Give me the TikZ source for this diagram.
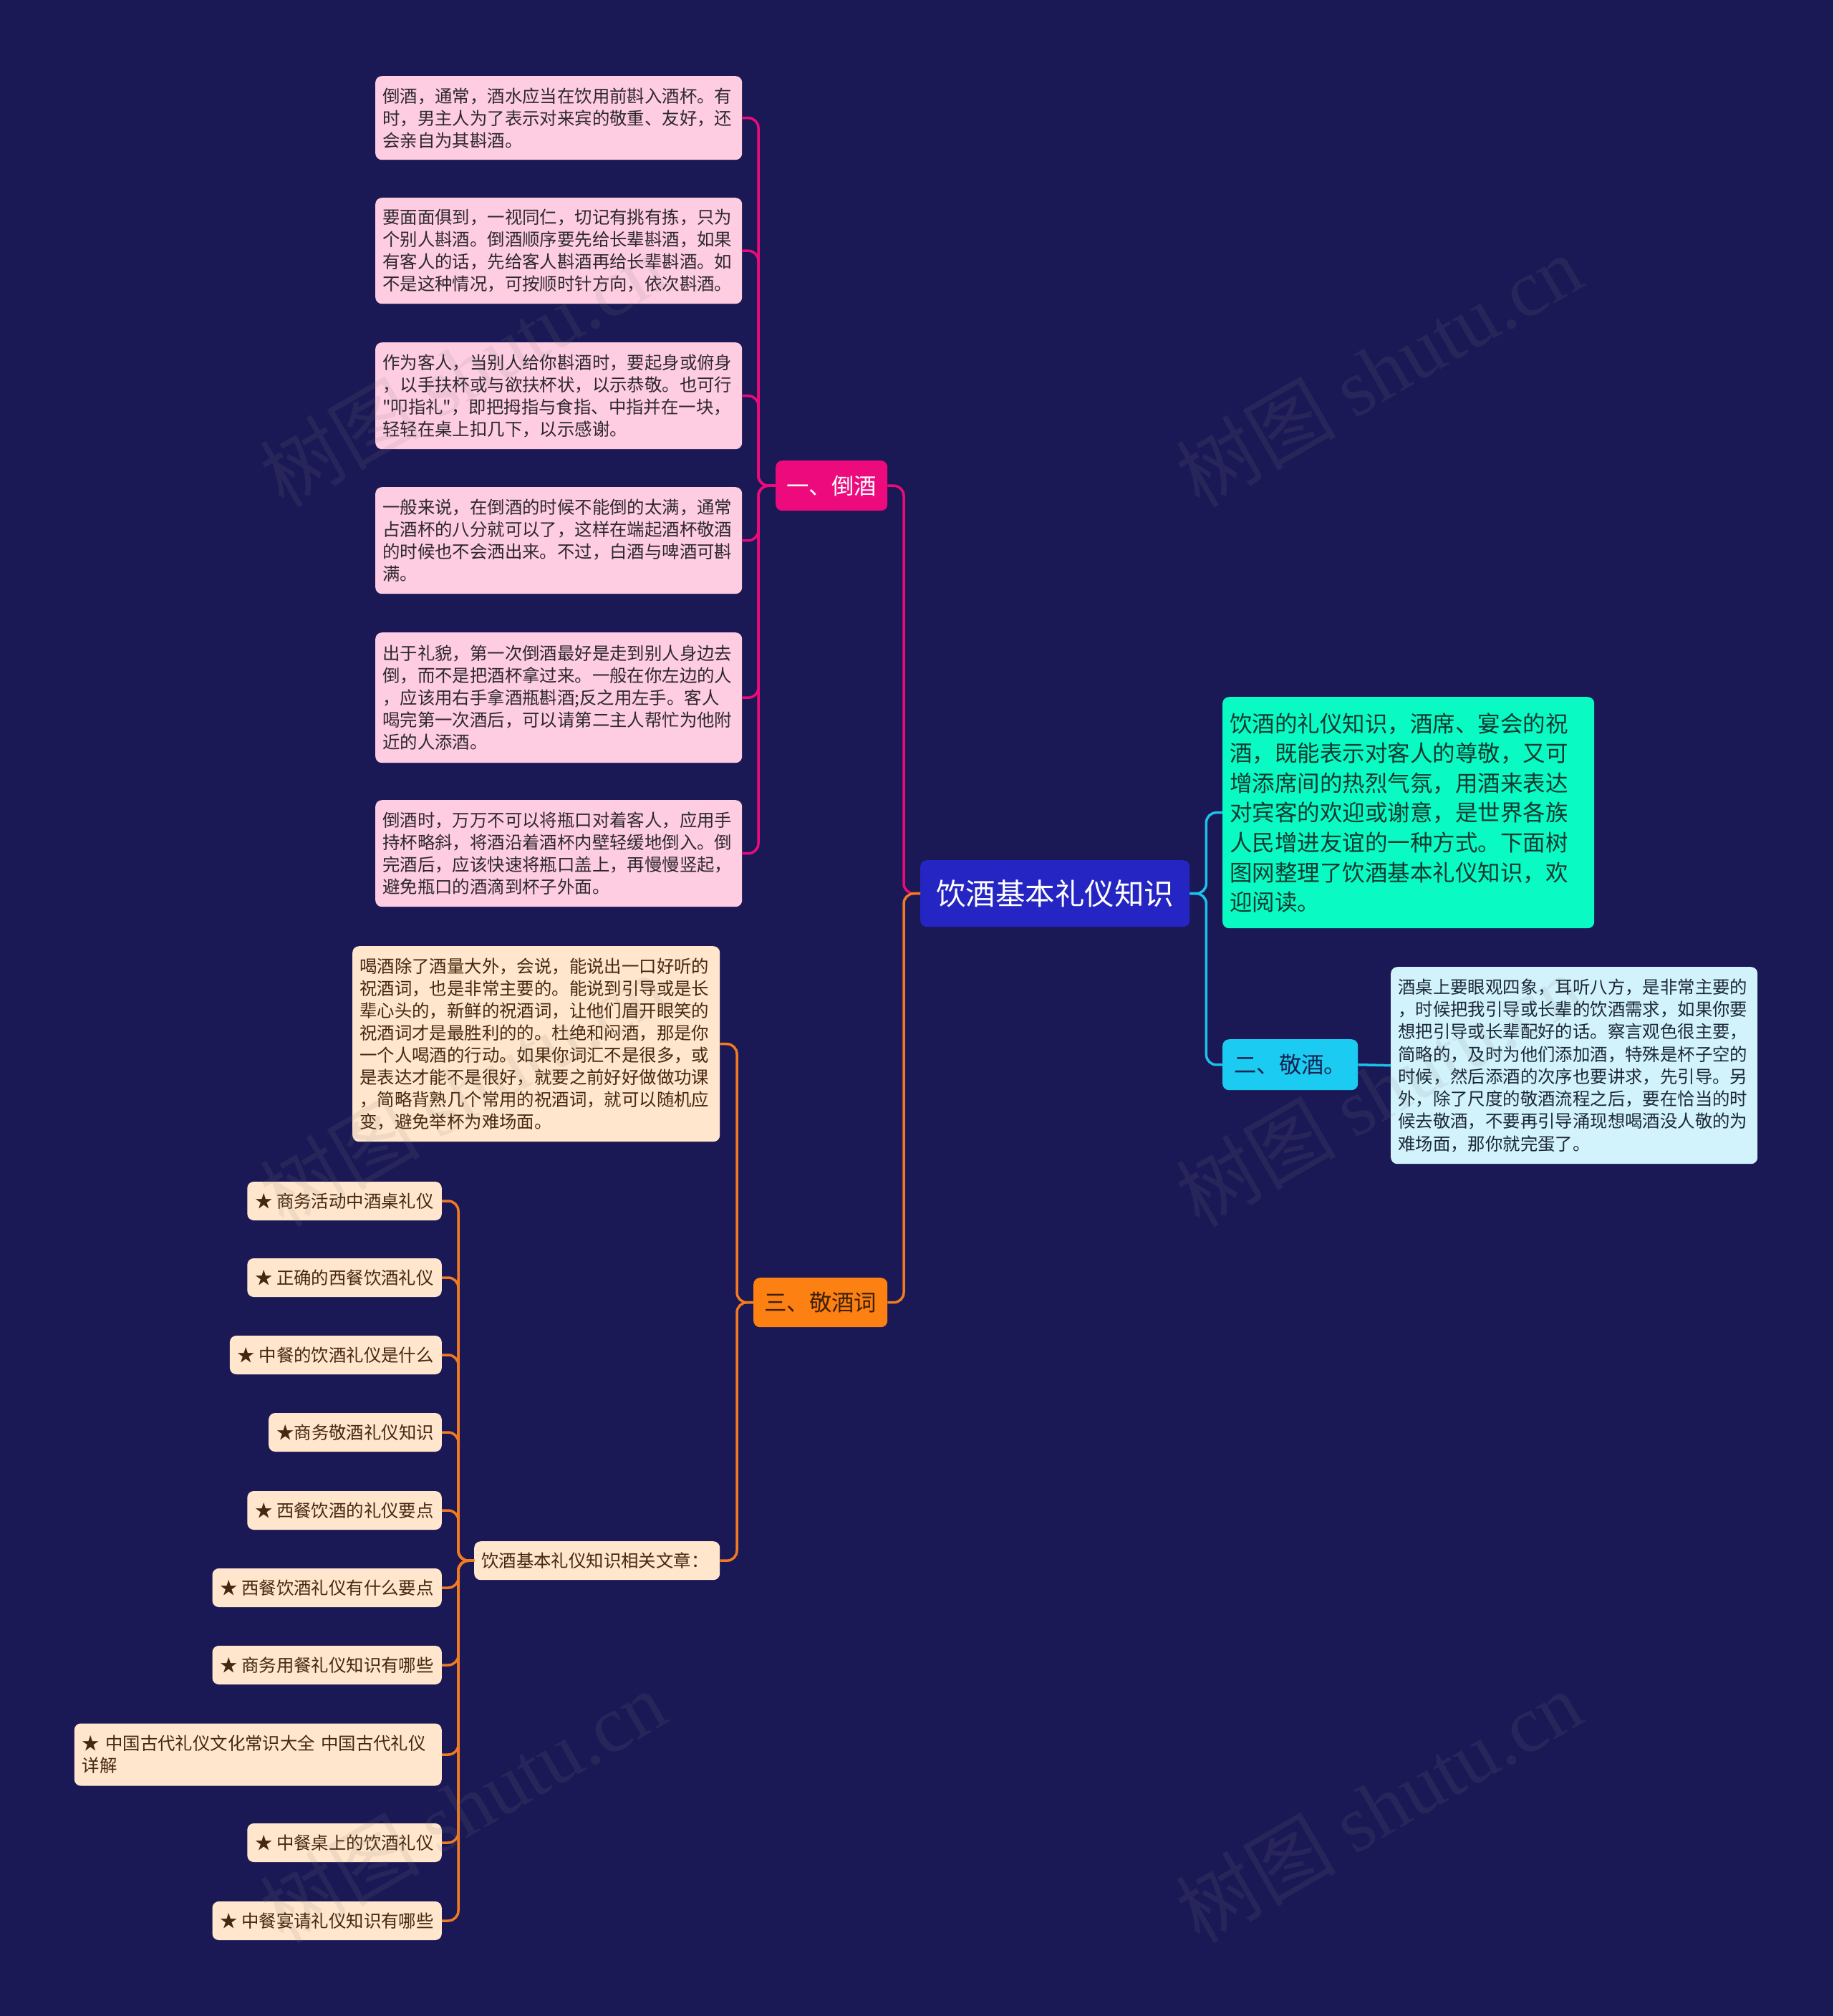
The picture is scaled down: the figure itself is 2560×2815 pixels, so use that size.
\documentclass[tikz,border=0pt]{standalone}
\usepackage{fontspec}
\setmainfont{Noto Sans CJK SC}
\newfontfamily\plainq{Noto Sans CJK SC}
\newfontfamily\wmserif{Liberation Serif}
\definecolor{bg}{RGB}{27,25,85}
\definecolor{magenta}{RGB}{236,10,124}
\definecolor{pinkfill}{RGB}{255,205,226}
\definecolor{pinktext}{RGB}{45,40,45}
\definecolor{rootfill}{RGB}{37,37,195}
\definecolor{greenfill}{RGB}{10,250,196}
\definecolor{greentext}{RGB}{14,59,48}
\definecolor{cyanfill}{RGB}{27,203,242}
\definecolor{cyanline}{RGB}{30,192,236}
\definecolor{cyantext}{RGB}{22,36,80}
\definecolor{lbfill}{RGB}{210,243,252}
\definecolor{lbtext}{RGB}{28,40,56}
\definecolor{orangefill}{RGB}{252,128,18}
\definecolor{orangeline}{RGB}{242,122,32}
\definecolor{orangetext}{RGB}{60,32,8}
\definecolor{beigefill}{RGB}{255,230,205}
\definecolor{beigetext}{RGB}{70,40,14}
\tikzset{
  box/.style={anchor=north west, rounded corners=9pt, inner xsep=10pt, inner ysep=0pt, align=left},
  pinkbox/.style={box, fill=pinkfill, text=pinktext, text width=492pt, font=\fontsize{24.4}{31}\selectfont},
  beigebox/.style={box, fill=beigefill, text=beigetext, text width=493pt, font=\fontsize{24.4}{31}\selectfont},
  lbbox/.style={box, fill=lbfill, text=lbtext, text width=492pt, font=\fontsize{24.4}{31.3}\selectfont},
  starbox/.style={anchor=east, rounded corners=9pt, inner xsep=11pt, inner ysep=0pt, minimum height=54pt, fill=beigefill, text=beigetext, font=\fontsize{24.4}{31}\selectfont},
  branch/.style={anchor=north west, rounded corners=9pt, inner sep=0pt, align=center, font=\fontsize{31.4}{38}\selectfont},
  conn/.style={line width=3.5pt, rounded corners=14pt},
  pinkline/.style={conn, draw=magenta},
  orangeln/.style={conn, draw=orangeline},
  cyanln/.style={conn, draw=cyanline},
  wm/.style={rotate=30, text=gray, opacity=0.12, font=\fontsize{112}{120}\selectfont}
}
\begin{document}
\begin{tikzpicture}[x=1pt,y=-1pt]
\useasboundingbox (0,0) rectangle (2560,2815);
\fill[bg] (0,0) rectangle (2560,2815);

% root
\node[branch, fill=rootfill, text=white, minimum width=376pt, minimum height=93pt, font=\fontsize{41.5}{48}\selectfont] (root) at (1285,1201) {饮酒基本礼仪知识};

% branch 1
\node[branch, fill=magenta, text=white, minimum width=156pt, minimum height=70pt] (b1) at (1083,643) {一、倒酒};
\node[pinkbox, minimum height=117pt] (p1) at (524,106) {倒酒，通常，酒水应当在饮用前斟入酒杯。有\\时，男主人为了表示对来宾的敬重、友好，还\\会亲自为其斟酒。};
\node[pinkbox, minimum height=148pt] (p2) at (524,276) {要面面俱到，一视同仁，切记有挑有拣，只为\\个别人斟酒。倒酒顺序要先给长辈斟酒，如果\\有客人的话，先给客人斟酒再给长辈斟酒。如\\不是这种情况，可按顺时针方向，依次斟酒。};
\node[pinkbox, minimum height=149pt] (p3) at (524,478) {作为客人，当别人给你斟酒时，要起身或俯身\\，以手扶杯或与欲扶杯状，以示恭敬。也可行\\{\plainq "}叩指礼{\plainq "}，即把拇指与食指、中指并在一块，\\轻轻在桌上扣几下，以示感谢。};
\node[pinkbox, minimum height=149pt] (p4) at (524,680) {一般来说，在倒酒的时候不能倒的太满，通常\\占酒杯的八分就可以了，这样在端起酒杯敬酒\\的时候也不会洒出来。不过，白酒与啤酒可斟\\满。};
\node[pinkbox, minimum height=182pt] (p5) at (524,883) {出于礼貌，第一次倒酒最好是走到别人身边去\\倒，而不是把酒杯拿过来。一般在你左边的人\\，应该用右手拿酒瓶斟酒;反之用左手。客人\\喝完第一次酒后，可以请第二主人帮忙为他附\\近的人添酒。};
\node[pinkbox, minimum height=149pt] (p6) at (524,1117) {倒酒时，万万不可以将瓶口对着客人，应用手\\持杯略斜，将酒沿着酒杯内壁轻缓地倒入。倒\\完酒后，应该快速将瓶口盖上，再慢慢竖起，\\避免瓶口的酒滴到杯子外面。};

% right side
\node[box, fill=greenfill, text=greentext, text width=499pt, minimum height=323pt, font=\fontsize{31.5}{41.6}\selectfont] (g) at (1707,973) {饮酒的礼仪知识，酒席、宴会的祝\\酒，既能表示对客人的尊敬，又可\\增添席间的热烈气氛，用酒来表达\\对宾客的欢迎或谢意，是世界各族\\人民增进友谊的一种方式。下面树\\图网整理了饮酒基本礼仪知识，欢\\迎阅读。};
\node[branch, fill=cyanfill, text=cyantext, minimum width=189pt, minimum height=71pt] (b2) at (1707,1451) {二、敬酒。};
\node[lbbox, minimum height=275pt] (lb) at (1942,1350) {酒桌上要眼观四象，耳听八方，是非常主要的\\，时候把我引导或长辈的饮酒需求，如果你要\\想把引导或长辈配好的话。察言观色很主要，\\简略的，及时为他们添加酒，特殊是杯子空的\\时候，然后添酒的次序也要讲求，先引导。另\\外，除了尺度的敬酒流程之后，要在恰当的时\\候去敬酒，不要再引导涌现想喝酒没人敬的为\\难场面，那你就完蛋了。};

% branch 3
\node[branch, fill=orangefill, text=orangetext, minimum width=187pt, minimum height=69pt] (b3) at (1052,1784) {三、敬酒词};
\node[beigebox, minimum height=273pt] (q) at (492,1321) {喝酒除了酒量大外，会说，能说出一口好听的\\祝酒词，也是非常主要的。能说到引导或是长\\辈心头的，新鲜的祝酒词，让他们眉开眼笑的\\祝酒词才是最胜利的的。杜绝和闷酒，那是你\\一个人喝酒的行动。如果你词汇不是很多，或\\是表达才能不是很好，就要之前好好做做功课\\，简略背熟几个常用的祝酒词，就可以随机应\\变，避免举杯为难场面。};
\node[box, fill=beigefill, text=beigetext, text width=323pt, minimum height=54pt, font=\fontsize{24.4}{31}\selectfont] (r) at (662,2152) {饮酒基本礼仪知识相关文章：};

\node[starbox] (s1) at (617,1677) {★ 商务活动中酒桌礼仪};
\node[starbox] (s2) at (617,1784) {★ 正确的西餐饮酒礼仪};
\node[starbox] (s3) at (617,1892) {★ 中餐的饮酒礼仪是什么};
\node[starbox] (s4) at (617,2000) {★商务敬酒礼仪知识};
\node[starbox] (s5) at (617,2109) {★ 西餐饮酒的礼仪要点};
\node[starbox] (s6) at (617,2217) {★ 西餐饮酒礼仪有什么要点};
\node[starbox] (s7) at (617,2325) {★ 商务用餐礼仪知识有哪些};
\node[starbox, text width=491pt, align=left, minimum height=87pt] (s8) at (617,2450) {★ 中国古代礼仪文化常识大全 中国古代礼仪\\详解};
\node[starbox] (s9) at (617,2573) {★ 中餐桌上的饮酒礼仪};
\node[starbox] (s10) at (617,2682) {★ 中餐宴请礼仪知识有哪些};

% connectors
\draw[pinkline] (root.west) -- ++(-23,0) |- (b1.east);
\draw[orangeln] (root.west) -- ++(-23,0) |- (b3.east);
\draw[cyanln] (root.east) -- ++(23,0) |- (g.west);
\draw[cyanln] (root.east) -- ++(23,0) |- (b2.west);
\draw[cyanln] (b2.east) -- (lb.west);
\foreach \n in {p1,p2,p3,p4,p5,p6}
  \draw[pinkline] (b1.west) -- ++(-24,0) |- (\n.east);
\draw[orangeln] (b3.west) -- ++(-23,0) |- (q.east);
\draw[orangeln] (b3.west) -- ++(-23,0) |- (r.east);
\foreach \n in {s1,s2,s3,s4,s5,s6,s7,s8,s9,s10}
  \draw[orangeln] (r.west) -- ++(-22,0) |- (\n.east);

% watermarks
\foreach \cx/\cy [count=\i] in {646/517,1925/517,646/1522,1925/1522,646/2522,1925/2522}
  \node[wm] (wm\i) at (\cx,\cy) {树图 {\wmserif shutu.cn}};
\end{tikzpicture}
\end{document}
